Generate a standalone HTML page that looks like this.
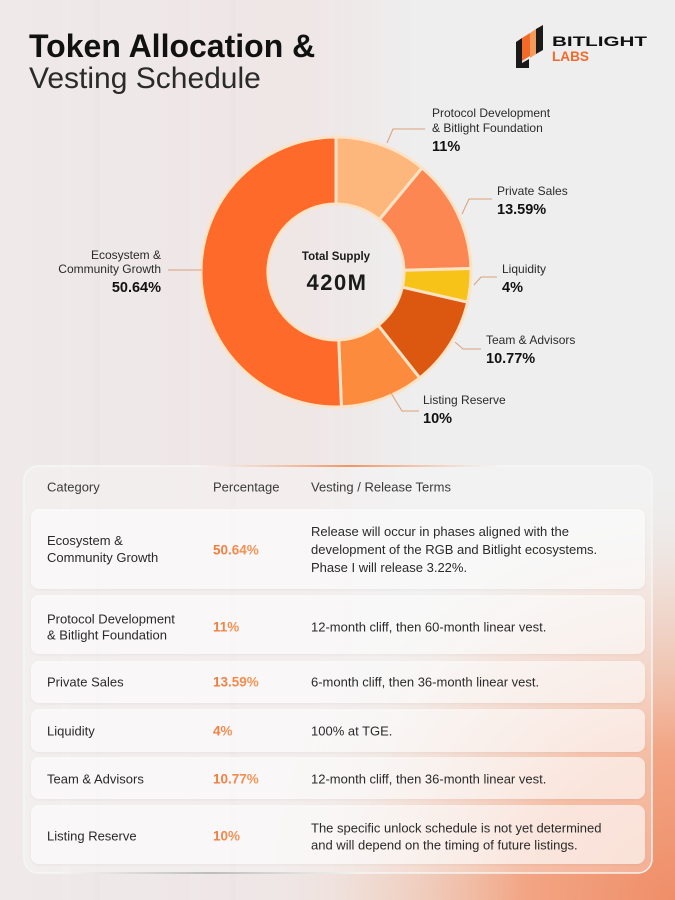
<!DOCTYPE html>
<html><head><meta charset="utf-8"><style>
html,body{margin:0;padding:0;background:#eeeeee;}
svg{display:block;font-family:"Liberation Sans",Arial,sans-serif;}
</style></head><body>
<svg width="675" height="900" viewBox="0 0 675 900" xmlns="http://www.w3.org/2000/svg">
<defs>
  <linearGradient id="leftTint" x1="0" y1="0" x2="1" y2="0">
    <stop offset="0" stop-color="#efe9e9"/>
    <stop offset="0.45" stop-color="#efe6e6"/>
    <stop offset="0.62" stop-color="#eeeeee"/>
    <stop offset="1" stop-color="#eeeeee"/>
  </linearGradient>
  <radialGradient id="orangeBR" cx="675" cy="900" r="430" gradientUnits="userSpaceOnUse">
    <stop offset="0" stop-color="#ef8e68"/>
    <stop offset="0.35" stop-color="#f2a584"/>
    <stop offset="0.7" stop-color="#f0cdbd" stop-opacity="0.6"/>
    <stop offset="1" stop-color="#eeeeee" stop-opacity="0"/>
  </radialGradient>
  <linearGradient id="topEdge" x1="0" y1="0" x2="1" y2="0">
    <stop offset="0" stop-color="#f6a27a" stop-opacity="0"/>
    <stop offset="0.5" stop-color="#f08a55" stop-opacity="0.9"/>
    <stop offset="1" stop-color="#f6a27a" stop-opacity="0"/>
  </linearGradient>
  <linearGradient id="botEdge" x1="0" y1="0" x2="1" y2="0">
    <stop offset="0" stop-color="#888" stop-opacity="0"/>
    <stop offset="0.5" stop-color="#777" stop-opacity="0.45"/>
    <stop offset="1" stop-color="#888" stop-opacity="0"/>
  </linearGradient>
  <linearGradient id="pctGrad" x1="0" y1="0" x2="1" y2="0">
    <stop offset="0" stop-color="#f27a3c"/>
    <stop offset="1" stop-color="#f39a5c"/>
  </linearGradient>
  <filter id="sh" x="-5%" y="-20%" width="110%" height="140%">
    <feDropShadow dx="0" dy="1" stdDeviation="1.2" flood-color="#000" flood-opacity="0.07"/>
  </filter>
</defs>

<!-- background -->
<rect x="0" y="0" width="675" height="900" fill="#eeeeee"/>
<rect x="0" y="0" width="675" height="900" fill="url(#leftTint)"/>
<g opacity="0.3">
  <rect x="62" y="0" width="8" height="900" fill="#f3eded"/>
  <rect x="95" y="0" width="5" height="900" fill="#e9e3e3"/>
  <rect x="190" y="0" width="10" height="900" fill="#f2ecec"/>
  <rect x="230" y="0" width="6" height="900" fill="#e8e2e2"/>
  <rect x="320" y="0" width="14" height="900" fill="#f1eaea"/>
</g>
<rect x="0" y="0" width="675" height="900" fill="url(#orangeBR)"/>

<!-- Title -->
<text x="29" y="57" font-size="32" font-weight="700" fill="#111">Token Allocation &amp;</text>
<text x="29" y="88" font-size="30" font-weight="400" fill="#2a2a2a">Vesting Schedule</text>

<!-- Logo -->
<g>
  <polygon points="516,42 522,38 522,63 529,59 529,68 516,68" fill="#1a1a1a"/>
  <polygon points="522,38 530,33 530,56 522,61" fill="#f26a2a"/>
  <polygon points="530,33 536,29 536,54 530,58" fill="#f49a5a"/>
  <polygon points="536,29 543,25 543,50 536,54" fill="#1a1a1a"/>
  <text x="552" y="46" font-size="13.5" font-weight="700" fill="#111" textLength="95" lengthAdjust="spacingAndGlyphs">BITLIGHT</text>
  <text x="552" y="61" font-size="13.5" font-weight="700" fill="#f26a2a" textLength="37" lengthAdjust="spacingAndGlyphs">LABS</text>
</g>

<!-- Donut -->
<g stroke="#fde3c6" stroke-width="3" stroke-linejoin="round">
  <path d="M336,137 A135,135 0 0 1 422.05,167.98 L379.34,219.61 A68,68 0 0 0 336,204 Z" fill="#fdb67b"/>
  <path d="M422.05,167.98 A135,135 0 0 1 470.96,268.52 L403.98,270.25 A68,68 0 0 0 379.34,219.61 Z" fill="#fc8752"/>
  <path d="M470.96,268.52 A135,135 0 0 1 467.58,302.19 L402.28,287.21 A68,68 0 0 0 403.98,270.25 Z" fill="#f8c318"/>
  <path d="M467.58,302.19 A135,135 0 0 1 419.68,377.94 L378.15,325.36 A68,68 0 0 0 402.28,287.21 Z" fill="#dc5810"/>
  <path d="M419.68,377.94 A135,135 0 0 1 341.43,406.89 L338.73,339.94 A68,68 0 0 0 378.15,325.36 Z" fill="#fd8b3e"/>
  <path d="M341.43,406.89 A135,135 0 1 1 336,137 L336,204 A68,68 0 1 0 338.73,339.94 Z" fill="#fd6a2a"/>
</g>
<text x="336" y="260" font-size="11.5" font-weight="700" fill="#1a1a1a" text-anchor="middle">Total Supply</text>
<text x="337" y="290" font-size="22" font-weight="700" fill="#1a1a1a" text-anchor="middle" letter-spacing="1.5">420M</text>

<!-- leader lines -->
<g stroke="#d9a07a" stroke-width="1" fill="none">
  <polyline points="387,143 393,129 425,129"/>
  <polyline points="462,214 469,199 492,199"/>
  <polyline points="474,285 481,277 497,277"/>
  <polyline points="455,342 463,349 481,349"/>
  <polyline points="391,393 402,411 419,411"/>
  <polyline points="168,270 202,270"/>
</g>

<!-- labels -->
<g font-size="12" fill="#2a2a2a">
  <text x="432" y="117">Protocol Development</text>
  <text x="432" y="132">&amp; Bitlight Foundation</text>
  <text x="497" y="195">Private Sales</text>
  <text x="502" y="273">Liquidity</text>
  <text x="486" y="344">Team &amp; Advisors</text>
  <text x="423" y="404">Listing Reserve</text>
  <text x="161" y="259" text-anchor="end">Ecosystem &amp;</text>
  <text x="161" y="273" text-anchor="end">Community Growth</text>
</g>
<g font-size="14.5" font-weight="700" fill="#111">
  <text x="432" y="151">11%</text>
  <text x="497" y="214">13.59%</text>
  <text x="502" y="292">4%</text>
  <text x="486" y="363">10.77%</text>
  <text x="423" y="423">10%</text>
  <text x="161" y="292" text-anchor="end">50.64%</text>
</g>

<!-- Table card -->
<rect x="24" y="466" width="628" height="407" rx="14" fill="#ffffff" fill-opacity="0.28" stroke="#ffffff" stroke-opacity="0.9" stroke-width="1.5"/>
<rect x="24" y="466" width="628" height="407" rx="14" fill="none" stroke="#d7e6e4" stroke-opacity="0.5" stroke-width="0.8"/>
<rect x="200" y="465" width="300" height="2" fill="url(#topEdge)"/>
<rect x="60" y="872" width="300" height="2" fill="url(#botEdge)"/>

<g font-size="13" fill="#3a3a3a">
  <text x="47" y="491.5">Category</text>
  <text x="213" y="491.5">Percentage</text>
  <text x="311" y="491.5">Vesting / Release Terms</text>
</g>

<g fill="#ffffff" fill-opacity="0.62" filter="url(#sh)">
  <rect x="31" y="509" width="614" height="80" rx="8"/>
  <rect x="31" y="595" width="614" height="59" rx="8"/>
  <rect x="31" y="661" width="614" height="42" rx="8"/>
  <rect x="31" y="709" width="614" height="43" rx="8"/>
  <rect x="31" y="757" width="614" height="42" rx="8"/>
  <rect x="31" y="805" width="614" height="59" rx="8"/>
</g>

<g font-size="13" fill="#2a2a2a">
  <text x="47" y="545">Ecosystem &amp;</text>
  <text x="47" y="562">Community Growth</text>
  <text x="311" y="536">Release will occur in phases aligned with the</text>
  <text x="311" y="554">development of the RGB and Bitlight ecosystems.</text>
  <text x="311" y="572">Phase I will release 3.22%.</text>

  <text x="47" y="623.5">Protocol Development</text>
  <text x="47" y="639.5">&amp; Bitlight Foundation</text>
  <text x="311" y="631.5">12-month cliff, then 60-month linear vest.</text>

  <text x="47" y="686.5">Private Sales</text>
  <text x="311" y="686.5">6-month cliff, then 36-month linear vest.</text>

  <text x="47" y="735.5">Liquidity</text>
  <text x="311" y="735.5">100% at TGE.</text>

  <text x="47" y="783.5">Team &amp; Advisors</text>
  <text x="311" y="783.5">12-month cliff, then 36-month linear vest.</text>

  <text x="47" y="840.5">Listing Reserve</text>
  <text x="311" y="832.5">The specific unlock schedule is not yet determined</text>
  <text x="311" y="849.5">and will depend on the timing of future listings.</text>
</g>

<g font-size="13.5" font-weight="700" fill="url(#pctGrad)">
  <text x="213" y="554.5">50.64%</text>
  <text x="213" y="631.5">11%</text>
  <text x="213" y="686.5">13.59%</text>
  <text x="213" y="735.5">4%</text>
  <text x="213" y="783.5">10.77%</text>
  <text x="213" y="840.5">10%</text>
</g>
</svg>
</body></html>
